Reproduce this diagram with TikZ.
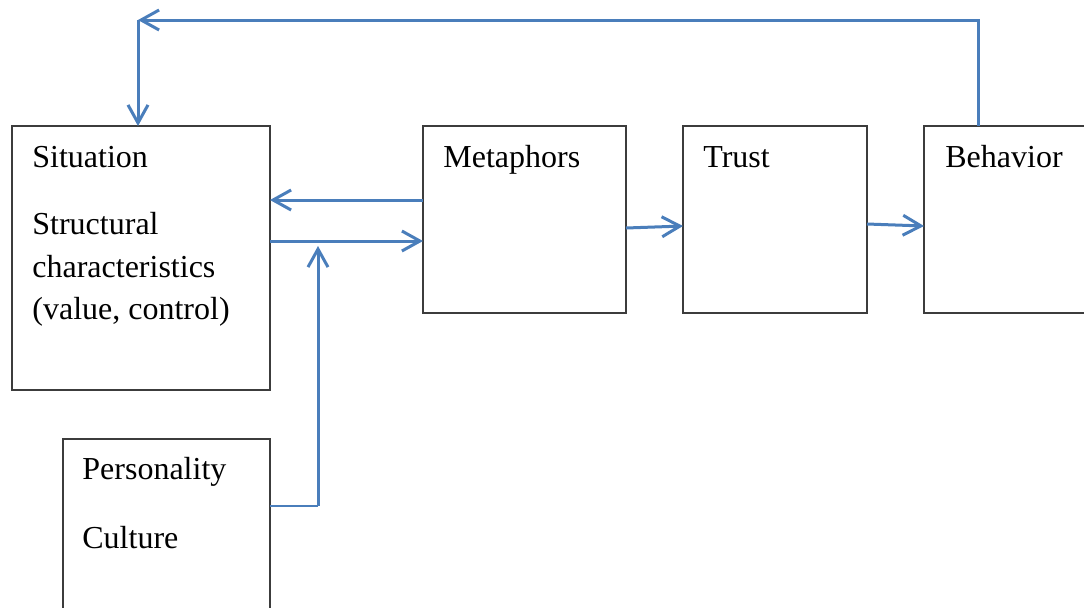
\documentclass[tikz,border=0pt]{standalone}
\usepackage{fontspec}
\setmainfont{Liberation Serif}
\usetikzlibrary{arrows.meta}
\definecolor{flow}{RGB}{74,126,187}
\definecolor{edge}{RGB}{60,60,60}
\begin{document}
\begin{tikzpicture}[x=0.5pt,y=-0.5pt,
  box/.style={draw=edge,line width=0.75pt,anchor=north west,inner sep=0pt,outer sep=0pt},
  lbl/.style={anchor=base west,inner sep=0pt,font=\fontsize{16}{19}\selectfont},
  arr/.style={draw=flow,line width=1.5pt,-{Straight Barb[length=9pt,width=10pt,line width=1.5pt]}},
  link/.style={draw=flow,line width=1.1pt}]
\clip (0,0) rectangle (1084,607);
\fill[white] (0,0) rectangle (1084,607);
% boxes
\node[box,minimum width=129pt,minimum height=132pt] (sit) at (12,126) {};
\node[box,minimum width=101.5pt,minimum height=93.5pt] (met) at (423,126) {};
\node[box,minimum width=92pt,minimum height=93.5pt] (tru) at (683,126) {};
\node[box,minimum width=100pt,minimum height=93.5pt] (beh) at (924,126) {};
\node[box,minimum width=103.5pt,minimum height=100pt] (per) at (63,439) {};
% labels
\node[lbl] (t1) at (32,167) {Situation};
\node[lbl] (t2) at (32,234) {Structural};
\node[lbl] (t3) at (32,277) {characteristics};
\node[lbl] (t4) at (32,319) {(value, control)};
\node[lbl] (t5) at (443,167) {Metaphors};
\node[lbl] (t6) at (703,167) {Trust};
\node[lbl] (t7) at (945,167) {Behavior};
\node[lbl] (t8) at (82,479) {Personality};
\node[lbl] (t9) at (82,548) {Culture};
% connectors
\coordinate (fb) at (138,20);
\coordinate (pj) at (318,506);
\draw[arr] ([xshift=27pt]beh.north west) |- (fb);
\draw[arr] (fb) -- (sit.north -| fb);
\draw[arr] (met.west |- 0,200) -- (sit.east |- 0,200);
\draw[arr] (sit.east |- 0,241) -- (met.west |- 0,241);
\draw[link] (per.east |- pj) -- (pj);
\draw[arr] (pj) -- (318,246);
\draw[arr] (met.east |- 0,228) -- (tru.west |- 0,226);
\draw[arr] (tru.east |- 0,224) -- (beh.west |- 0,226);
\end{tikzpicture}
\end{document}
